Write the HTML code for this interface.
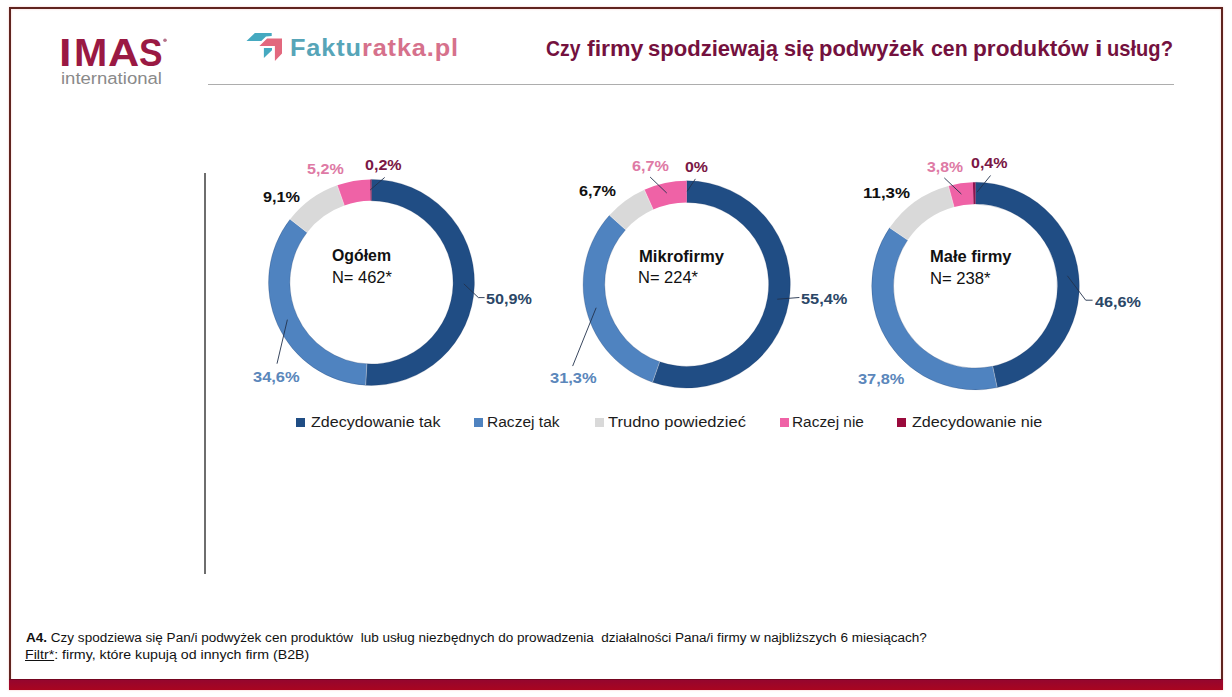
<!DOCTYPE html>
<html lang="pl">
<head>
<meta charset="utf-8">
<title>Czy firmy spodziewają się podwyżek cen produktów i usług?</title>
<style>
html,body{margin:0;padding:0;background:#fff;}
body{width:1232px;height:697px;position:relative;overflow:hidden;font-family:"Liberation Sans",sans-serif;}
.frame{position:absolute;left:9px;top:7px;width:1210px;height:681px;border:2px solid #60241f;border-bottom:none;box-shadow:0 0 2px rgba(235,140,140,.5),inset 0 0 2px rgba(235,140,140,.5);}
.bar{position:absolute;left:9px;top:679px;width:1214px;height:11px;background:linear-gradient(#95062e,#a9051f);border-top:1px solid #74041f;box-sizing:border-box;}
.hr{position:absolute;left:208px;top:84px;width:966px;height:1px;background:#adadad;}
.vr{position:absolute;left:204px;top:173px;width:2px;height:401px;background:#6e6e6e;}
.t{position:absolute;white-space:nowrap;line-height:1;transform-origin:0 0;font-family:"Liberation Sans",sans-serif;}
.sq{position:absolute;top:417.6px;width:9px;height:9px;}
.grp{position:absolute;left:0;top:0;width:0;height:0;}
svg{position:absolute;left:0;top:0;}
</style>
</head>
<body>
<div class="frame"></div>
<div class="bar"></div>
<div class="hr"></div>
<div class="vr"></div>
<svg width="1232" height="697" viewBox="0 0 1232 697">
<!-- Fakturatka icon -->
<polygon points="254.9,33.1 271.7,33.1 271.7,36 266,36.5 261.3,41.1 246.5,41.1" fill="#45a9c0"/>
<polygon points="267.1,38.6 282,38.6 282,53.4 274.9,60.9 274.9,46 259.4,46" fill="#e2687e"/>
<polygon points="263.9,47.9 272,47.9 272,50.2 263.9,57.9" fill="#45a9c0"/>
<circle cx="165" cy="40.2" r="1.8" fill="#b4718a"/>
<path d="M371.50 179.40A103.00 103.00 0 1 1 365.68 385.24L366.89 363.87A81.60 81.60 0 1 0 371.50 200.80Z" fill="#204d84" stroke="#0d2a55" stroke-opacity="0.28" stroke-width="0.8"/>
<path d="M365.68 385.24A103.00 103.00 0 0 1 290.11 219.27L307.02 232.39A81.60 81.60 0 0 0 366.89 363.87Z" fill="#4f83c0" stroke="#0d2a55" stroke-opacity="0.28" stroke-width="0.8"/>
<path d="M290.11 219.27A103.00 103.00 0 0 1 337.22 185.27L344.34 205.45A81.60 81.60 0 0 0 307.02 232.39Z" fill="#d9d9d9"/>
<path d="M337.22 185.27A103.00 103.00 0 0 1 370.21 179.41L370.47 200.81A81.60 81.60 0 0 0 344.34 205.45Z" fill="#ef62a6"/>
<path d="M370.21 179.41A103.00 103.00 0 0 1 371.50 179.40L371.50 200.80A81.60 81.60 0 0 0 370.47 200.81Z" fill="#8f1450"/>
<g stroke="#ffffff" stroke-opacity="0.45" stroke-width="0.9"><line x1="365.68" y1="385.24" x2="366.89" y2="363.87"/><line x1="290.11" y1="219.27" x2="307.02" y2="232.39"/><line x1="337.22" y1="185.27" x2="344.34" y2="205.45"/></g>
<path d="M686.70 180.80A103.60 103.60 0 1 1 652.56 382.21L659.68 361.82A82.00 82.00 0 1 0 686.70 202.40Z" fill="#204d84" stroke="#0d2a55" stroke-opacity="0.28" stroke-width="0.8"/>
<path d="M652.56 382.21A103.60 103.60 0 0 1 609.48 215.34L625.58 229.74A82.00 82.00 0 0 0 659.68 361.82Z" fill="#4f83c0" stroke="#0d2a55" stroke-opacity="0.28" stroke-width="0.8"/>
<path d="M609.48 215.34A103.60 103.60 0 0 1 644.40 189.83L653.22 209.55A82.00 82.00 0 0 0 625.58 229.74Z" fill="#d9d9d9"/>
<path d="M644.40 189.83A103.60 103.60 0 0 1 686.70 180.80L686.70 202.40A82.00 82.00 0 0 0 653.22 209.55Z" fill="#ef62a6"/>
<g stroke="#ffffff" stroke-opacity="0.45" stroke-width="0.9"><line x1="652.56" y1="382.21" x2="659.68" y2="361.82"/><line x1="609.48" y1="215.34" x2="625.58" y2="229.74"/><line x1="644.40" y1="189.83" x2="653.22" y2="209.55"/></g>
<path d="M975.50 182.30A103.80 103.80 0 0 1 997.21 387.60L992.65 366.29A82.00 82.00 0 0 0 975.50 204.10Z" fill="#204d84" stroke="#0d2a55" stroke-opacity="0.28" stroke-width="0.8"/>
<path d="M997.21 387.60A103.80 103.80 0 0 1 889.59 227.84L907.63 240.08A82.00 82.00 0 0 0 992.65 366.29Z" fill="#4f83c0" stroke="#0d2a55" stroke-opacity="0.28" stroke-width="0.8"/>
<path d="M889.59 227.84A103.80 103.80 0 0 1 948.40 185.90L954.09 206.94A82.00 82.00 0 0 0 907.63 240.08Z" fill="#d9d9d9"/>
<path d="M948.40 185.90A103.80 103.80 0 0 1 972.89 182.33L973.44 204.13A82.00 82.00 0 0 0 954.09 206.94Z" fill="#ef62a6"/>
<path d="M972.89 182.33A103.80 103.80 0 0 1 975.50 182.30L975.50 204.10A82.00 82.00 0 0 0 973.44 204.13Z" fill="#8f1450"/>
<g stroke="#ffffff" stroke-opacity="0.45" stroke-width="0.9"><line x1="997.21" y1="387.60" x2="992.65" y2="366.29"/><line x1="889.59" y1="227.84" x2="907.63" y2="240.08"/><line x1="948.40" y1="185.90" x2="954.09" y2="206.94"/></g>

<g stroke="#22324c" stroke-opacity="0.9" stroke-width="1" fill="none" stroke-linecap="round" stroke-linejoin="round">
<polyline points="464.1,284.1 478.4,297.6 484.2,297.6"/>
<polyline points="287.3,320 277.1,363.3"/>
<polyline points="370.5,189.7 384.4,177.7"/>
<polyline points="777.6,299.2 799,297.5"/>
<polyline points="596,308.1 572.8,365.7"/>
<polyline points="650.4,177.3 666.5,192.8"/>
<polyline points="695.2,179.2 687.4,190.9"/>
<polyline points="1067.6,276.1 1085.7,300.2 1092.2,300.2"/>
<polyline points="944.6,178.2 961.1,193.8"/>
<polyline points="990.3,175.8 977.2,191.9"/>
</g>

</svg>
<div class="sq" style="left:296.2px;background:#204d84"></div>
<div class="sq" style="left:474.2px;background:#4f83c0"></div>
<div class="sq" style="left:594.8px;background:#d9d9d9"></div>
<div class="sq" style="left:779.6px;background:#ef62a6"></div>
<div class="sq" style="left:896.6px;background:#9a0a3c"></div>
<div class="grp" style="font-size:39.5px;font-weight:bold;color:#9a1943"><span class="t" style="left:59.38px;top:33.00px;transform:scaleX(1.1364)">I</span><span class="t" style="left:73.92px;top:33.00px;transform:scaleX(1.0109)">M</span><span class="t" style="left:108.01px;top:33.00px;transform:scaleX(1.0943)">A</span><span class="t" style="left:138.68px;top:33.00px;transform:scaleX(0.8936)">S</span></div>
<div class="grp" style="font-size:22.2px;font-weight:bold;color:#74113e"><span class="t" style="left:545.93px;top:38.00px;transform:scaleX(0.8732)">Czy</span> <span class="t" style="left:586.54px;top:38.00px;transform:scaleX(1.0400)">firmy</span> <span class="t" style="left:648.15px;top:38.00px;transform:scaleX(0.9942)">spodziewają</span> <span class="t" style="left:783.87px;top:38.00px;transform:scaleX(0.9778)">się</span> <span class="t" style="left:818.91px;top:38.00px;transform:scaleX(0.9904)">podwyżek</span> <span class="t" style="left:931.28px;top:38.00px;transform:scaleX(0.9600)">cen</span> <span class="t" style="left:973.07px;top:38.00px;transform:scaleX(1.0205)">produktów</span> <span class="t" style="left:1095.25px;top:38.00px;transform:scaleX(1.2000)">i</span> <span class="t" style="left:1106.77px;top:38.00px;transform:scaleX(0.9068)">usług?</span></div>
<div class="t" style="left:61.17px;top:70.00px;font-size:17.40px;font-weight:normal;color:#8a8a8a;transform:scaleX(1.0649);">international</div>
<div class="t" style="left:289.91px;top:36.00px;font-size:23.90px;font-weight:bold;color:#57a5b8;letter-spacing:0.823px;transform:scaleX(1.060);"><span style="color:#57a5b8">Faktu</span><span style="color:#d6718c">ratka.pl</span></div>
<div class="t" style="left:485.87px;top:291.00px;font-size:15.30px;font-weight:bold;color:#2b4767;transform:scaleX(1.0565);">50,9%</div>
<div class="t" style="left:252.86px;top:369.00px;font-size:15.30px;font-weight:bold;color:#5b87bb;transform:scaleX(1.0753);">34,6%</div>
<div class="t" style="left:263.27px;top:189.00px;font-size:15.30px;font-weight:bold;color:#111;transform:scaleX(1.0618);">9,1%</div>
<div class="t" style="left:306.57px;top:161.00px;font-size:15.30px;font-weight:bold;color:#de7aa5;transform:scaleX(1.0529);">5,2%</div>
<div class="t" style="left:365.08px;top:157.00px;font-size:15.30px;font-weight:bold;color:#7a1745;transform:scaleX(1.0500);">0,2%</div>
<div class="t" style="left:332.16px;top:248.00px;font-size:16.00px;font-weight:bold;color:#111;transform:scaleX(0.9905);">Ogółem</div>
<div class="t" style="left:332.22px;top:270.00px;font-size:16.00px;font-weight:normal;color:#111;transform:scaleX(1.0273);">N= 462*</div>
<div class="t" style="left:801.16px;top:291.00px;font-size:15.30px;font-weight:bold;color:#2b4767;transform:scaleX(1.0706);">55,4%</div>
<div class="t" style="left:549.76px;top:370.00px;font-size:15.30px;font-weight:bold;color:#5b87bb;transform:scaleX(1.0753);">31,3%</div>
<div class="t" style="left:579.07px;top:183.00px;font-size:15.30px;font-weight:bold;color:#111;transform:scaleX(1.0618);">6,7%</div>
<div class="t" style="left:632.37px;top:158.00px;font-size:15.30px;font-weight:bold;color:#de7aa5;transform:scaleX(1.0588);">6,7%</div>
<div class="t" style="left:684.98px;top:159.00px;font-size:15.30px;font-weight:bold;color:#7a1745;transform:scaleX(1.0400);">0%</div>
<div class="t" style="left:638.56px;top:249.00px;font-size:16.00px;font-weight:bold;color:#111;transform:scaleX(1.0378);">Mikrofirmy</div>
<div class="t" style="left:638.31px;top:270.00px;font-size:16.00px;font-weight:normal;color:#111;transform:scaleX(1.0291);">N= 224*</div>
<div class="t" style="left:1095.44px;top:294.00px;font-size:15.30px;font-weight:bold;color:#2b4767;transform:scaleX(1.0596);">46,6%</div>
<div class="t" style="left:857.86px;top:371.00px;font-size:15.30px;font-weight:bold;color:#5b87bb;transform:scaleX(1.0706);">37,8%</div>
<div class="t" style="left:863.09px;top:185.00px;font-size:15.30px;font-weight:bold;color:#111;transform:scaleX(1.1055);">11,3%</div>
<div class="t" style="left:927.48px;top:159.00px;font-size:15.30px;font-weight:bold;color:#de7aa5;transform:scaleX(1.0324);">3,8%</div>
<div class="t" style="left:971.28px;top:155.00px;font-size:15.30px;font-weight:bold;color:#7a1745;transform:scaleX(1.0471);">0,4%</div>
<div class="t" style="left:929.57px;top:249.00px;font-size:16.00px;font-weight:bold;color:#111;transform:scaleX(1.0295);">Małe firmy</div>
<div class="t" style="left:929.70px;top:271.00px;font-size:16.00px;font-weight:normal;color:#111;transform:scaleX(1.0396);">N= 238*</div>
<div class="t" style="left:310.87px;top:414.00px;font-size:15.10px;font-weight:normal;color:#1c1c1c;transform:scaleX(1.0645);">Zdecydowanie tak</div>
<div class="t" style="left:487.31px;top:414.00px;font-size:15.10px;font-weight:normal;color:#1c1c1c;transform:scaleX(1.0296);">Raczej tak</div>
<div class="t" style="left:608.13px;top:414.00px;font-size:15.10px;font-weight:normal;color:#1c1c1c;transform:scaleX(1.0932);">Trudno powiedzieć</div>
<div class="t" style="left:792.42px;top:414.00px;font-size:15.10px;font-weight:normal;color:#1c1c1c;transform:scaleX(1.0204);">Raczej nie</div>
<div class="t" style="left:912.06px;top:414.00px;font-size:15.10px;font-weight:normal;color:#1c1c1c;transform:scaleX(1.0705);">Zdecydowanie nie</div>
<div class="t" style="left:25.53px;top:632.00px;font-size:12.50px;font-weight:normal;color:#111;transform:scaleX(1.0823);"><b>A4.</b> Czy spodziewa się Pan/i podwyżek cen produktów&nbsp; lub usług niezbędnych do prowadzenia&nbsp; działalności Pana/i firmy w najbliższych 6 miesiącach?</div>
<div class="t" style="left:24.67px;top:649.00px;font-size:12.50px;font-weight:normal;color:#111;transform:scaleX(1.1345);"><span style="text-decoration:underline">Filtr*</span>: firmy, które kupują od innych firm (B2B)</div>
</body>
</html>
